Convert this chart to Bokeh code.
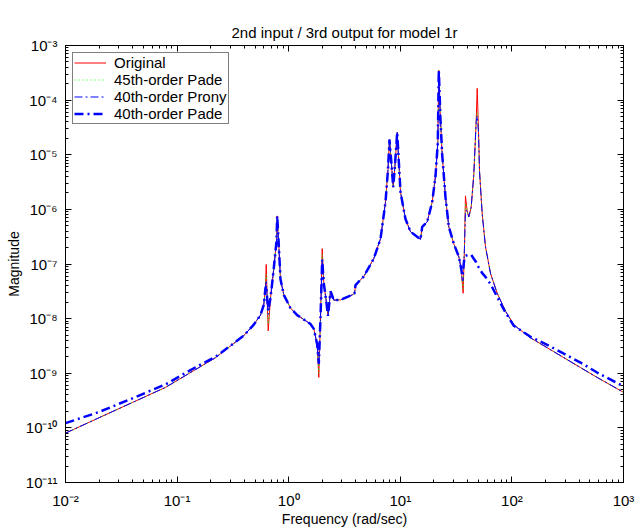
from bokeh.plotting import figure
from bokeh.models import (LogAxis, FixedTicker, CustomJSTickFormatter, Legend,
                          LegendItem, Title, Range1d, ColumnDataSource)
from bokeh.embed import file_html
from bokeh.resources import INLINE

# ---------------- data ----------------
freq = [0.01, 0.0198, 0.0281, 0.0398, 0.0787, 0.1556, 0.221, 0.301, 0.394, 0.484,
        0.559, 0.598, 0.619, 0.629, 0.641, 0.655, 0.687, 0.735, 0.777, 0.789,
        0.818, 0.844, 0.904, 1.038, 1.191, 1.567, 1.679, 1.80, 1.861, 1.927,
        1.996, 2.063, 2.182, 2.249, 2.370, 2.535, 2.911, 3.706, 3.888, 3.97,
        4.71, 5.79, 6.65, 7.37, 7.76, 8.00, 8.34, 8.64, 8.97, 9.38,
        9.73, 10.04, 11.13, 12.34, 14.16, 15.17, 15.71, 17.41, 19.31, 20.68,
        21.68, 22.13, 22.91, 23.73, 25.41, 27.21, 30.14, 33.42, 35.32, 35.8,
        36.56, 37.56, 38.36, 39.72, 41.08, 43.17, 45.57, 47.86, 48.87, 50.20,
        51.26, 54.2, 58.0, 64.3, 73.8, 87.6, 104.0, 146.8, 207.2, 291.8,
        411.9, 580.6, 1000.0]

mag_original = [8.0e-11, 1.52e-10, 2.11e-10, 2.92e-10, 5.51e-10, 1.26e-9, 1.93e-9, 3.16e-9, 4.84e-9, 7.66e-9,
                1.16e-8, 1.79e-8, 3.6e-8, 9.8e-8, 2.37e-8, 5.96e-9, 2.37e-8, 8.28e-8, 2.56e-7, 7.59e-7,
                1.91e-7, 5.24e-8, 2.72e-8, 1.56e-8, 1.16e-8, 7.98e-9, 6.49e-9, 3.37e-9, 8.38e-10, 1.03e-8,
                1.91e-7, 4.43e-8, 1.92e-8, 1.12e-8, 3.17e-8, 2.18e-8, 2.20e-8, 2.72e-8, 2.92e-8, 4.12e-8,
                5.93e-8, 1.26e-7, 2.90e-7, 1.36e-6, 5.40e-6, 1.89e-5, 6.65e-6, 2.55e-6, 6.65e-6, 2.56e-5,
                6.65e-6, 2.07e-6, 6.68e-7, 3.89e-7, 3.16e-7, 2.82e-7, 4.79e-7, 5.90e-7, 1.36e-6, 4.08e-6,
                1.67e-5, 3.52e-4, 4.36e-5, 1.01e-5, 1.67e-6, 4.79e-7, 2.36e-7, 1.37e-7, 7.71e-8, 5.0e-8,
                2.92e-8, 1.91e-7, 1.77e-6, 9.35e-7, 7.28e-7, 1.10e-6, 4.38e-6, 4.06e-5, 1.64e-4, 2.87e-5,
                5.04e-6, 8.24e-7, 2.07e-7, 6.73e-8, 2.92e-8, 1.37e-8, 7.66e-9, 4.45e-9, 2.93e-9, 1.93e-9,
                1.27e-9, 8.38e-10, 4.48e-10]

mag_pade45 = [8.0e-11, 1.52e-10, 2.11e-10, 2.92e-10, 5.51e-10, 1.26e-9, 1.93e-9, 3.16e-9, 4.84e-9, 7.66e-9,
              1.16e-8, 1.79e-8, 3.6e-8, 6.5e-8, 2.37e-8, 8.0e-9, 2.37e-8, 8.28e-8, 2.56e-7, 7.59e-7,
              1.91e-7, 5.24e-8, 2.72e-8, 1.56e-8, 1.16e-8, 7.98e-9, 6.49e-9, 3.37e-9, 1.0e-9, 1.03e-8,
              1.5e-7, 4.43e-8, 1.92e-8, 1.12e-8, 3.17e-8, 2.18e-8, 2.20e-8, 2.72e-8, 2.92e-8, 4.12e-8,
              5.93e-8, 1.26e-7, 2.90e-7, 1.36e-6, 5.40e-6, 1.89e-5, 6.65e-6, 2.55e-6, 6.65e-6, 2.56e-5,
              6.65e-6, 2.07e-6, 6.68e-7, 3.89e-7, 3.16e-7, 2.82e-7, 4.79e-7, 5.90e-7, 1.36e-6, 4.08e-6,
              1.67e-5, 3.52e-4, 4.36e-5, 1.01e-5, 1.67e-6, 4.79e-7, 2.36e-7, 1.37e-7, 7.71e-8, 5.0e-8,
              3.5e-8, 1.91e-7, 1.3e-6, 9.35e-7, 7.28e-7, 1.10e-6, 4.38e-6, 4.06e-5, 6.0e-5, 2.6e-5,
              5.04e-6, 8.24e-7, 2.07e-7, 6.73e-8, 2.92e-8, 1.37e-8, 7.66e-9, 4.45e-9, 2.93e-9, 1.93e-9,
              1.27e-9, 8.38e-10, 4.48e-10]

mag_prony40 = [8.0e-11, 1.52e-10, 2.11e-10, 2.92e-10, 5.51e-10, 1.26e-9, 1.93e-9, 3.16e-9, 4.84e-9, 7.66e-9,
               1.16e-8, 1.79e-8, 3.6e-8, 5.0e-8, 2.37e-8, 1.2e-8, 2.37e-8, 8.28e-8, 2.56e-7, 7.59e-7,
               1.91e-7, 5.24e-8, 2.72e-8, 1.56e-8, 1.16e-8, 7.98e-9, 6.49e-9, 3.37e-9, 1.46e-9, 1.03e-8,
               1.2e-7, 4.43e-8, 1.92e-8, 1.12e-8, 3.17e-8, 2.18e-8, 2.20e-8, 2.72e-8, 2.92e-8, 4.12e-8,
               5.93e-8, 1.26e-7, 2.90e-7, 1.36e-6, 5.40e-6, 1.89e-5, 6.65e-6, 2.55e-6, 6.65e-6, 2.56e-5,
               6.65e-6, 2.07e-6, 6.68e-7, 3.89e-7, 3.16e-7, 2.82e-7, 4.79e-7, 5.90e-7, 1.36e-6, 4.08e-6,
               1.67e-5, 3.52e-4, 4.36e-5, 1.01e-5, 1.67e-6, 4.79e-7, 2.36e-7, 1.37e-7, 7.71e-8, 5.0e-8,
               5.0e-8, 1.91e-7, 9.5e-7, 9.35e-7, 7.28e-7, 1.10e-6, 4.38e-6, 4.06e-5, 5.15e-5, 2.5e-5,
               5.04e-6, 8.24e-7, 2.07e-7, 6.73e-8, 2.92e-8, 1.37e-8, 7.66e-9, 4.45e-9, 2.93e-9, 1.93e-9,
               1.27e-9, 8.38e-10, 4.48e-10]

mag_pade40 = [1.22e-10, 1.94e-10, 2.60e-10, 3.48e-10, 6.25e-10, 1.38e-9, 2.0e-9, 3.2e-9, 4.84e-9, 7.66e-9,
              1.16e-8, 1.79e-8, 3.6e-8, 4.0e-8, 2.37e-8, 1.4e-8, 2.37e-8, 8.28e-8, 2.56e-7, 7.59e-7,
              1.91e-7, 5.24e-8, 2.72e-8, 1.56e-8, 1.16e-8, 7.98e-9, 6.49e-9, 3.37e-9, 1.5e-9, 1.03e-8,
              1.2e-7, 4.43e-8, 1.92e-8, 1.12e-8, 3.17e-8, 2.18e-8, 2.20e-8, 2.72e-8, 2.92e-8, 4.12e-8,
              5.93e-8, 1.26e-7, 2.90e-7, 1.36e-6, 5.40e-6, 1.89e-5, 6.65e-6, 2.55e-6, 6.65e-6, 2.56e-5,
              6.65e-6, 2.07e-6, 6.68e-7, 3.89e-7, 3.16e-7, 2.82e-7, 4.79e-7, 5.90e-7, 1.36e-6, 4.08e-6,
              1.67e-5, 3.52e-4, 4.36e-5, 1.01e-5, 1.67e-6, 4.79e-7, 2.36e-7, 1.37e-7, 7.71e-8, 6.0e-8,
              8.0e-8, 1.3e-7, 1.4e-7, 1.45e-7, 1.48e-7, 1.47e-7, 1.25e-7, 1.08e-7, 9.8e-8, 8.8e-8,
              8.2e-8, 6.8e-8, 5.8e-8, 4.3e-8, 2.5e-8, 1.3e-8, 7.4e-9, 4.65e-9, 3.32e-9, 2.28e-9,
              1.57e-9, 1.03e-9, 5.75e-10]

series_labels = ["Original", "45th-order Pade", "40th-order Prony", "40th-order Pade"]

x_ticks = [1e-2, 1e-1, 1e0, 1e1, 1e2, 1e3]
x_tick_labels = ["10\u207b\u00b2", "10\u207b\u00b9", "10\u2070", "10\u00b9", "10\u00b2", "10\u00b3"]
y_ticks = [1e-11, 1e-10, 1e-9, 1e-8, 1e-7, 1e-6, 1e-5, 1e-4, 1e-3]
y_tick_labels = ["10\u207b\u00b9\u00b9", "10\u207b\u00b9\u2070", "10\u207b\u2079", "10\u207b\u2078",
                 "10\u207b\u2077", "10\u207b\u2076", "10\u207b\u2075", "10\u207b\u2074", "10\u207b\u00b3"]

title_text = "2nd input / 3rd output for model 1r"
x_label = "Frequency (rad/sec)"
y_label = "Magnitude"

# ---------------- figure ----------------
FONT = "Liberation Sans"

src = ColumnDataSource(dict(f=freq, orig=mag_original, p45=mag_pade45,
                            prony=mag_prony40, p40=mag_pade40))

p = figure(width=637, height=529, x_axis_type="log", y_axis_type="log",
           x_range=Range1d(x_ticks[0], x_ticks[-1]), y_range=Range1d(y_ticks[0], y_ticks[-1]),
           output_backend="svg", toolbar_location=None,
           min_border_left=65, min_border_right=14, min_border_top=45, min_border_bottom=43)
p.background_fill_color = "white"
p.border_fill_color = "white"
p.outline_line_color = "black"
p.outline_line_width = 1
p.xgrid.visible = False
p.ygrid.visible = False


def ticker(tv):
    minors = [m * t for t in tv[:-1] for m in range(2, 10)]
    return FixedTicker(ticks=tv, minor_ticks=minors)


def label_formatter(tv, tl):
    return CustomJSTickFormatter(args=dict(tvals=tv, tlabels=tl), code="""
        for (let i = 0; i < tvals.length; i++) {
            if (Math.abs(Math.log10(tvals[i]) - Math.log10(tick)) < 1e-6) { return tlabels[i]; }
        }
        return '';
    """)


def style_axis(ax):
    ax.axis_line_color = "black"
    ax.axis_line_width = 1
    ax.major_tick_in = 6
    ax.major_tick_out = 0
    ax.minor_tick_in = 3
    ax.minor_tick_out = 0
    ax.major_tick_line_color = "black"
    ax.minor_tick_line_color = "black"
    ax.major_label_text_font = FONT
    ax.major_label_text_font_size = "15px"
    ax.major_label_text_color = "black"
    ax.axis_label_text_font = FONT
    ax.axis_label_text_font_size = "14px"
    ax.axis_label_text_font_style = "normal"
    ax.axis_label_text_color = "black"


xa = p.xaxis[0]
xa.ticker = ticker(x_ticks)
xa.formatter = label_formatter(x_ticks, x_tick_labels)
style_axis(xa)
xa.major_label_standoff = 9
xa.axis_label = x_label
xa.axis_label_standoff = -1

ya = p.yaxis[0]
ya.ticker = ticker(y_ticks)
ya.formatter = label_formatter(y_ticks, y_tick_labels)
style_axis(ya)
ya.major_label_standoff = 8
ya.axis_label = y_label
ya.axis_label_standoff = 1

blank = "return '';"
top = LogAxis(ticker=ticker(x_ticks), formatter=CustomJSTickFormatter(code=blank))
style_axis(top)
top.major_label_text_font_size = "0px"
top.major_label_standoff = 0
p.add_layout(top, "above")

right = LogAxis(ticker=ticker(y_ticks), formatter=CustomJSTickFormatter(code=blank))
style_axis(right)
right.major_label_text_font_size = "0px"
right.major_label_standoff = 0
p.add_layout(right, "right")

p.add_layout(Title(text=title_text, align="center", text_font=FONT, text_font_size="15px",
                   text_font_style="normal", text_color="black", standoff=10), "above")

r_orig = p.line("f", "orig", source=src, line_color="#ff0000", line_width=1)
r_p45 = p.line("f", "p45", source=src, line_color="#00ff00", line_width=1, line_dash="1 3")
r_prony = p.line("f", "prony", source=src, line_color="#0000ff", line_width=1, line_dash="8 3 2 3")
r_p40 = p.line("f", "p40", source=src, line_color="#0000ff", line_width=2.5, line_dash="9 4 2 4")

legend = Legend(items=[LegendItem(label=series_labels[0], renderers=[r_orig]),
                       LegendItem(label=series_labels[1], renderers=[r_p45]),
                       LegendItem(label=series_labels[2], renderers=[r_prony]),
                       LegendItem(label=series_labels[3], renderers=[r_p40])],
                location="top_left")
legend.margin = 7
legend.padding = 1
legend.spacing = 0
legend.label_height = 17
legend.glyph_height = 17
legend.glyph_width = 32
legend.label_standoff = 8
legend.label_text_font = FONT
legend.label_text_font_size = "15px"
legend.label_text_color = "black"
legend.border_line_color = "black"
legend.border_line_width = 1
legend.background_fill_color = "white"
legend.background_fill_alpha = 1.0
p.add_layout(legend)

open("out.html", "w").write(file_html(p, INLINE))
